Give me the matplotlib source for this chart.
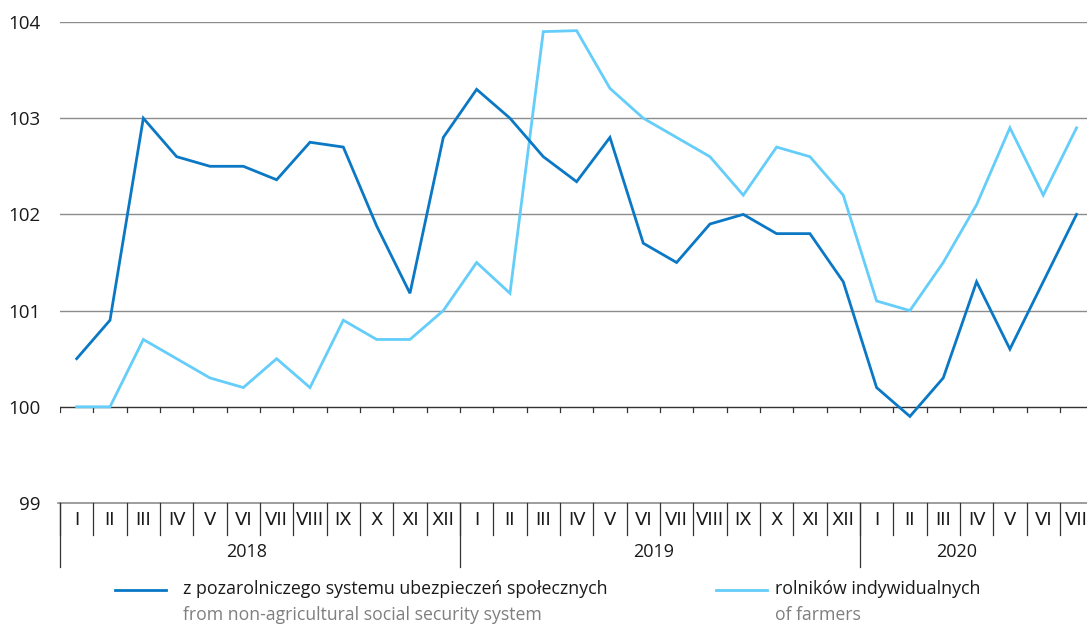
import matplotlib
matplotlib.use("Agg")
import matplotlib.pyplot as plt
from matplotlib.lines import Line2D
import matplotlib.transforms as mtransforms

plt.rcParams['font.family'] = ['Open Sans', 'DejaVu Sans']

months = ["I", "II", "III", "IV", "V", "VI", "VII", "VIII", "IX", "X", "XI", "XII"] * 2 + \
         ["I", "II", "III", "IV", "V", "VI", "VII"]
years = ["2018", "2019", "2020"]
year_lengths = [12, 12, 7]

non_agri = [100.5, 100.9, 103.0, 102.6, 102.5, 102.5, 102.36, 102.75, 102.7, 101.88, 101.18, 102.8,
            103.3, 103.0, 102.6, 102.34, 102.8, 101.7, 101.5, 101.9, 102.0, 101.8, 101.8, 101.3,
            100.2, 99.9, 100.3, 101.3, 100.6, 101.3, 102.0]
farmers = [100.0, 100.0, 100.7, 100.5, 100.3, 100.2, 100.5, 100.2, 100.9, 100.7, 100.7, 101.0,
           101.5, 101.18, 103.9, 103.91, 103.31, 103.0, 102.8, 102.6, 102.2, 102.7, 102.6, 102.2,
           101.1, 101.0, 101.5, 102.1, 102.9, 102.2, 102.9]

label_dark_pl = "z pozarolniczego systemu ubezpieczeń społecznych"
label_dark_en = "from non-agricultural social security system"
label_light_pl = "rolników indywidualnych"
label_light_en = "of farmers"

DARK = "#0a78c4"
LIGHT = "#64cdfa"

W, H = 1087, 628
fig = plt.figure(figsize=(W / 100, H / 100), dpi=100)
left, right, top, bottom = 60, 1087, 22, 503
ax = fig.add_axes([left / W, 1 - bottom / H, (right - left) / W, (bottom - top) / H])

n = len(months)
x = list(range(n))
ax.set_xlim(-0.5, -0.5 + (right - left) / 33.33)
ax.set_ylim(99, 104)

for v in [101, 102, 103, 104]:
    ax.axhline(v, color="#8c8c8c", lw=1.0, zorder=1)
ax.axhline(100, color="#333333", lw=1.0, zorder=1)
ax.plot([-0.56, ax.get_xlim()[1]], [99, 99], color="#8c8c8c", lw=1.2, clip_on=False, zorder=1)

# small ticks below the 100 line at month boundaries
for b in range(n + 1):
    ax.plot([b - 0.5, b - 0.5], [100, 99.95], color="#333333", lw=0.9, zorder=1)

ax.plot(x, farmers, color=LIGHT, lw=2.0, zorder=3, solid_joinstyle="miter")
ax.plot(x, non_agri, color=DARK, lw=2.0, zorder=4, solid_joinstyle="miter")

for s in ax.spines.values():
    s.set_visible(False)
ax.set_xticks([])
ax.set_yticks([99, 100, 101, 102, 103, 104])
ax.set_yticklabels(["99", "100", "101", "102", "103", "104"])
ax.tick_params(axis="y", length=0, pad=14, labelsize=13.5, labelcolor="#1a1a1a")

trans = mtransforms.blended_transform_factory(ax.transData, ax.transAxes)
ah = bottom - top
row1 = -(535 - 503) / ah
row2 = -(567 - 503) / ah
for i, m in enumerate(months):
    ax.text(i, -(520 - 503) / ah, m, transform=trans, ha="center", va="center",
            fontsize=13, color="#1a1a1a", clip_on=False,
            family=["Liberation Sans Narrow", "DejaVu Sans"])
for b in range(n + 1):
    ax.plot([b - 0.5, b - 0.5], [0, row1], transform=trans, color="#333333", lw=0.9, clip_on=False)

# year label centres (in month-index units)
year_label_pos = [5.1, 17.3, 26.4]
start = 0
for yname, ln, cx in zip(years, year_lengths, year_label_pos):
    ax.plot([start - 0.5, start - 0.5], [0, row2], transform=trans, color="#333333", lw=0.9, clip_on=False)
    ax.text(cx, -(552 - 503) / ah, yname, transform=trans, ha="center", va="center",
            fontsize=13, color="#1a1a1a", clip_on=False)
    start += ln

# legend
def fx(px):
    return px / W

def fy(py):
    return 1 - py / H

fig.add_artist(Line2D([fx(115), fx(166)], [fy(590), fy(590)], color=DARK, lw=2.0))
fig.text(fx(183), fy(589), label_dark_pl, ha="left", va="center", fontsize=12.8, color="#1a1a1a")
fig.text(fx(183), fy(615), label_dark_en, ha="left", va="center", fontsize=12.7, color="#7f7f7f")
fig.add_artist(Line2D([fx(716), fx(767)], [fy(590), fy(590)], color=LIGHT, lw=2.0))
fig.text(fx(775), fy(589), label_light_pl, ha="left", va="center", fontsize=12.8, color="#1a1a1a")
fig.text(fx(775), fy(615), label_light_en, ha="left", va="center", fontsize=12.7, color="#7f7f7f")

fig.savefig("out.png", dpi=100)
